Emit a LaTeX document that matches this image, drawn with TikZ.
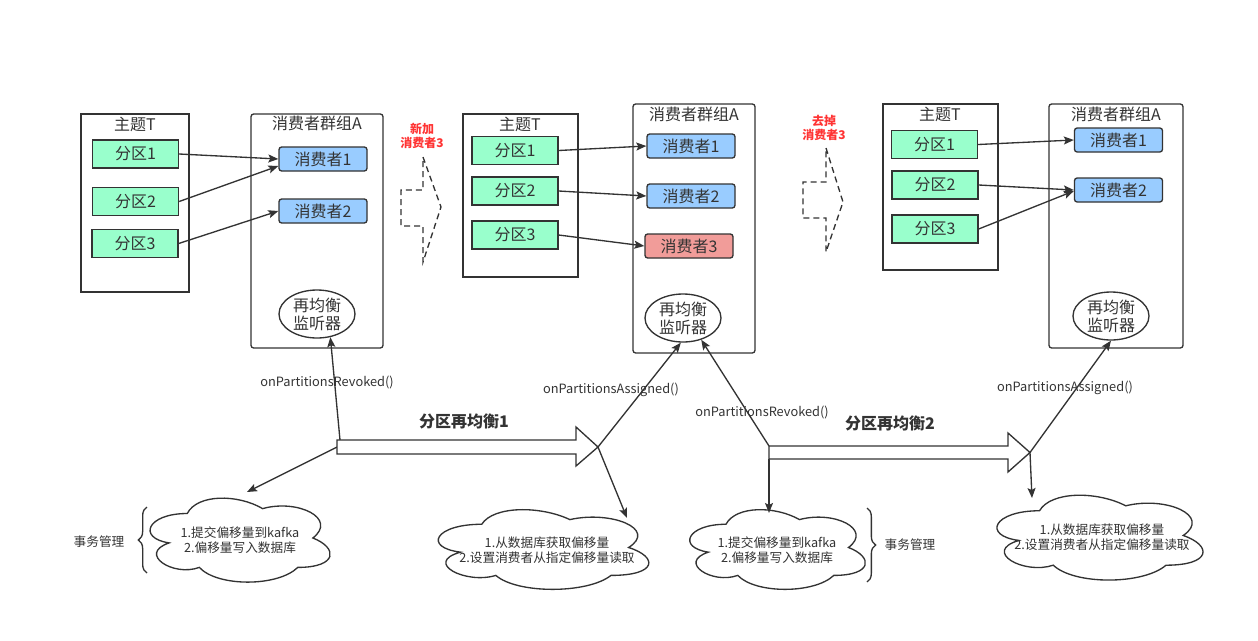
\documentclass[tikz,border=0pt]{standalone}
\usepackage{fontspec}
\setmainfont{Noto Sans CJK SC}
\usetikzlibrary{arrows.meta,calc,shapes.geometric,decorations.pathreplacing}
\definecolor{dark}{HTML}{333333}
\definecolor{pgreen}{HTML}{99FFCC}
\definecolor{pblue}{HTML}{99CCFF}
\definecolor{pred}{HTML}{F19C99}
\definecolor{tred}{HTML}{FF3333}
\newcommand{\drawcloud}[4]{%
\begin{scope}[shift={(#1,#2)},xscale=#3,yscale=#4]
\draw[cloudst] (0.25,0.25) .. controls (0.05,0.25) and (0,0.5) .. (0.16,0.55)
 .. controls (0,0.66) and (0.18,0.9) .. (0.31,0.8)
 .. controls (0.4,1) and (0.7,1) .. (0.8,0.8)
 .. controls (1,0.8) and (1,0.6) .. (0.875,0.5)
 .. controls (1,0.3) and (0.8,0.1) .. (0.625,0.2)
 .. controls (0.5,0.05) and (0.3,0.05) .. (0.25,0.25) -- cycle;
\end{scope}}
\begin{document}
\begin{tikzpicture}[x=0.75pt,y=-0.75pt,
  topic/.style={draw=dark,line width=1pt,fill=white,inner sep=0pt},
  grp/.style={draw=dark,line width=1pt,fill=white,rounded corners=2pt,inner sep=0pt},
  ttl/.style={inner sep=0pt,font=\fontsize{12}{14}\selectfont,text=dark},
  part/.style={draw=dark,line width=1pt,fill=pgreen,minimum width=64.5pt,minimum height=21pt,inner sep=0pt,font=\fontsize{12}{14}\selectfont,text=dark},
  cons/.style={draw=dark,line width=1pt,fill=pblue,rounded corners=2pt,minimum width=66pt,minimum height=18pt,inner sep=0pt,font=\fontsize{12}{14}\selectfont,text=dark},
  lis/.style={ellipse,draw=dark,line width=1pt,fill=white,minimum width=57pt,minimum height=36pt,inner sep=0pt,align=center,font=\fontsize{12}{13.5}\selectfont,text=dark},
  conn/.style={draw=dark,line width=1pt,-{Stealth[length=7.5pt,width=6pt,inset=1.5pt]}},
  dashsh/.style={draw=dark,line width=1pt,dash pattern=on 4.5pt off 3pt},
  redlbl/.style={inner sep=0pt,align=center,text=tred,font=\bfseries\fontsize{9}{10.5}\selectfont},
  bigarr/.style={draw=dark,line width=1pt,fill=white},
  blbl/.style={inner sep=0pt,font=\bfseries\fontsize{12}{14}\selectfont,text=dark},
  lbl/.style={inner sep=0pt,font=\fontsize{9.6}{11}\selectfont,text=dark},
  cloudst/.style={draw=dark,line width=1pt,fill=white},
  ctxt/.style={inner sep=0pt,align=center,font=\fontsize{9.5}{11.25}\selectfont,text=dark},
  bracest/.style={draw=dark,line width=1pt,decorate,decoration={brace,amplitude=6.5pt}},
  tm/.style={inner sep=0pt,font=\fontsize{9.5}{11}\selectfont,text=dark}
]
\useasboundingbox (0,0) rectangle (1258,640);

% ---------- left stage ----------
\node[topic,minimum width=81pt,minimum height=133.5pt] (tL) at (135,203) {};
\node[ttl] (tLt) at (135,124) {主题T};
\node[grp,minimum width=99pt,minimum height=175.5pt] (gL) at (317,231) {};
\node[ttl] (gLt) at (317,123) {消费者群组A};
\node[part] (pL1) at (135.5,154) {分区1};
\node[part] (pL2) at (135.5,201.5) {分区2};
\node[part] (pL3) at (135,243.5) {分区3};
\node[cons] (cL1) at (323,159) {消费者1};
\node[cons] (cL2) at (323,211) {消费者2};
\node[lis] (lisL) at (317,314) {再均衡\\监听器};
\draw[conn] (pL1.east) -- (cL1.west);
\draw[conn] (pL2.east) -- ($(cL1.west)+(0,7)$);
\draw[conn] (pL3.east) -- (cL2.west);

% ---------- transition 1 ----------
\node[redlbl] (add3) at (422,135.5) {新加\\消费者3};
\draw[dashsh] (423,157) -- (441,207) -- (423,262) -- (423,226) -- (401,226) -- (401,190) -- (423,190) -- cycle;

% ---------- middle stage ----------
\node[topic,minimum width=86.25pt,minimum height=122.25pt] (tM) at (520.5,195.5) {};
\node[ttl] (tMt) at (520,124) {主题T};
\node[grp,minimum width=91.5pt,minimum height=186.75pt] (gM) at (694,228.5) {};
\node[ttl] (gMt) at (694,114) {消费者群组A};
\node[part] (pM1) at (515,150.5) {分区1};
\node[part] (pM2) at (515,191) {分区2};
\node[part] (pM3) at (515,235) {分区3};
\node[cons] (cM1) at (691,146) {消费者1};
\node[cons] (cM2) at (691,196) {消费者2};
\node[cons,fill=pred] (cM3) at (689,246) {消费者3};
\node[lis] (lisM) at (683,318) {再均衡\\监听器};
\draw[conn] (pM1.east) -- (cM1.west);
\draw[conn] (pM2.east) -- (cM2.west);
\draw[conn] (pM3.east) -- (cM3.west);

% ---------- transition 2 ----------
\node[redlbl] (del3) at (824,127.5) {去掉\\消费者3};
\draw[dashsh] (826,148) -- (843,202) -- (826,252) -- (826,218) -- (803,218) -- (803,182) -- (826,182) -- cycle;

% ---------- right stage ----------
\node[topic,minimum width=86.25pt,minimum height=124.5pt] (tR) at (940.5,187) {};
\node[ttl] (tRt) at (940,114) {主题T};
\node[grp,minimum width=100.5pt,minimum height=183pt] (gR) at (1116,226) {};
\node[ttl] (gRt) at (1116,114) {消费者群组A};
\node[part] (pR1) at (934.5,144.5) {分区1};
\node[part] (pR2) at (935,185) {分区2};
\node[part] (pR3) at (935,229) {分区3};
\node[cons] (cR1) at (1118.5,140) {消费者1};
\node[cons] (cR2) at (1118.5,190) {消费者2};
\node[lis] (lisR) at (1111,316) {再均衡\\监听器};
\draw[conn] (pR1.east) -- (cR1.west);
\draw[conn] (pR2.east) -- (cR2.west);
\draw[conn] (pR3.east) -- ($(cR2.west)+(0,1)$);

% ---------- clouds ----------
\drawcloud{137}{489}{201}{98}
\drawcloud{423}{501}{235}{93}
\drawcloud{677}{501}{196}{93}
\drawcloud{982}{486}{230}{99}
\node[ctxt] (cl1) at (240,540.5) {1.提交偏移量到kafka\\2.偏移量写入数据库};
\node[ctxt] (cl2) at (547,550.5) {1.从数据库获取偏移量\\2.设置消费者从指定偏移量读取};
\node[ctxt] (cl3) at (777,550.5) {1.提交偏移量到kafka\\2.偏移量写入数据库};
\node[ctxt] (cl4) at (1102,537.5) {1.从数据库获取偏移量\\2.设置消费者从指定偏移量读取};
\coordinate (k1) at (247,492);
\coordinate (k2) at (627,518);
\coordinate (k3) at (769,513);
\coordinate (k4) at (1032,498);

% ---------- braces ----------
\draw[bracest] (147,573) -- (147,507);
\node[tm] (tx1) at (99,542) {事务管理};
\draw[bracest] (867,508) -- (867,582);
\node[tm] (tx2) at (910,545) {事务管理};

% ---------- rebalance connectors ----------
\coordinate (r1u) at (340,440);
\coordinate (r1t) at (337,447);
\coordinate (r1e) at (598,447);
\coordinate (r2u) at (769,446);
\coordinate (r2d) at (769,459);
\coordinate (r2e) at (1030,452.5);
\draw[conn] (r1u) -- (lisL.-60);
\draw[conn] (r1t) -- (k1);
\draw[conn] (r1e) -- (lisM.-95);
\draw[conn] (r1e) -- (k2);
\draw[conn] (r2u) -- (lisM.-50);
\draw[conn] (r2d) -- (k3);
\draw[conn] (r2e) -- (lisR.south);
\draw[conn] (r2e) -- (k4);

% ---------- big arrows ----------
\path[bigarr] (337,440) -- (576,440) -- (576,427) -- (598,447) -- (576,466) -- (576,454) -- (337,454) -- cycle;
\path[bigarr] (769,446) -- (1008,446) -- (1008,433) -- (1030,452.5) -- (1008,472) -- (1008,459) -- (769,459) -- cycle;
\node[blbl] (rb1) at (464,421) {分区再均衡1};
\node[blbl] (rb2) at (890,423) {分区再均衡2};

% ---------- callback labels ----------
\node[lbl] (lr1) at (327,383) {onPartitionsRevoked()};
\node[lbl] (la1) at (611,390) {onPartitionsAssigned()};
\node[lbl] (lr2) at (762,413) {onPartitionsRevoked()};
\node[lbl] (la2) at (1065,388) {onPartitionsAssigned()};
\end{tikzpicture}
\end{document}
